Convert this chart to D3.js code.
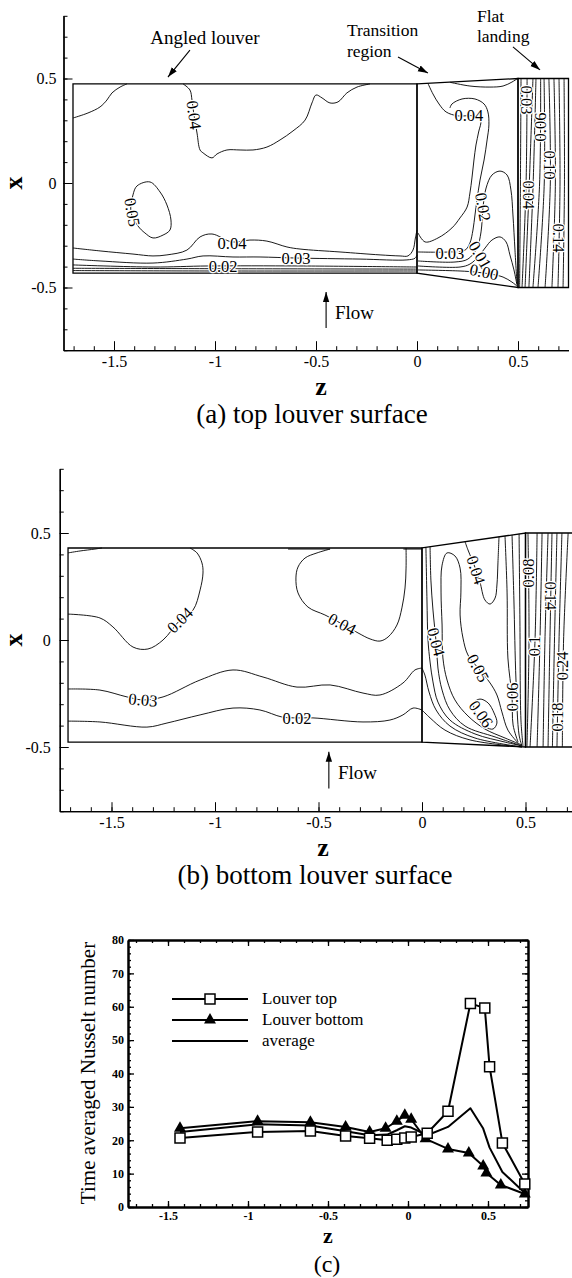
<!DOCTYPE html>
<html><head><meta charset="utf-8">
<script src="https://cdn.jsdelivr.net/npm/d3@7"></script>
<style>
body{margin:0;background:#fff;}
svg{display:block;font-family:"Liberation Serif","Times New Roman",serif;}
</style></head><body>
<svg id="chart" width="572" height="1278"></svg>
<script>
// ================= DATA =================
// ---- common axis ticks ----
const louverXTicks = [-1.5, -1, -0.5, 0, 0.5];
const louverYTicks = [-0.5, 0, 0.5];
const nuXTicks = [-1.5, -1, -0.5, 0, 0.5];
const nuYTicks = [0, 10, 20, 30, 40, 50, 60, 70, 80];

// ---- panel (a) top louver surface: region outlines [z, x] ----
const aAngledBound = [[-1.703,0.474],[0,0.474],[0,-0.431],[-1.703,-0.431]];
const aTransBound  = [[0,0.474],[0.5,0.5],[0.5,-0.5],[0,-0.431]];
const aFlatBound   = [[0.5,0.5],[0.75,0.5],[0.75,-0.5],[0.5,-0.5]];
// ---- panel (a) contour lines [z, x] ----
const aAngled004Left = [[-1.703,0.311],[-1.629,0.335],[-1.569,0.364],[-1.535,0.397],[-1.510,0.431],[-1.470,0.459],[-1.436,0.474]];
const aAngled004Top = [[-1.158,0.474],[-1.124,0.445],[-1.114,0.397],[-1.104,0.325],[-1.089,0.239],[-1.074,0.158],[-1.059,0.144],[-1.015,0.120],[-0.990,0.139],[-0.941,0.158],[-0.876,0.158],[-0.812,0.158],[-0.743,0.172],[-0.678,0.206],[-0.614,0.249],[-0.554,0.301],[-0.520,0.383],[-0.500,0.421],[-0.470,0.407],[-0.431,0.383],[-0.391,0.388],[-0.347,0.431],[-0.297,0.459],[-0.233,0.474]];
const aAngled005Loop = [[-1.386,-0.014],[-1.322,0.005],[-1.272,-0.043],[-1.238,-0.105],[-1.218,-0.177],[-1.223,-0.225],[-1.257,-0.249],[-1.307,-0.263],[-1.347,-0.239],[-1.381,-0.206],[-1.416,-0.139],[-1.406,-0.057]];
const aAngled004Low = [[-1.703,-0.311],[-1.569,-0.325],[-1.406,-0.340],[-1.307,-0.349],[-1.238,-0.344],[-1.139,-0.321],[-1.074,-0.258],[-1.015,-0.244],[-0.916,-0.282],[-0.827,-0.273],[-0.743,-0.278],[-0.644,-0.306],[-0.579,-0.316],[-0.381,-0.330],[-0.183,-0.344],[-0.084,-0.349],[-0.045,-0.349],[-0.020,-0.321],[-0.008,-0.263],[0,-0.225]];
const aAngled003 = [[-1.703,-0.364],[-1.569,-0.373],[-1.307,-0.383],[-1.139,-0.364],[-1.059,-0.349],[-0.911,-0.354],[-0.777,-0.354],[-0.599,-0.359],[-0.282,-0.364],[-0.050,-0.368],[-0.010,-0.360],[0,-0.345]];
const aAngled002 = [[-1.703,-0.392],[-1.307,-0.402],[-1.035,-0.397],[-0.579,-0.397],[0,-0.402]];
const aAngled001 = [[-1.703,-0.408],[-1.000,-0.410],[0,-0.412]];
const aAngled000 = [[-1.703,-0.419],[-1.000,-0.421],[0,-0.421]];
const aTransTop = [[0.163,0.482],[0.262,0.464],[0.361,0.459],[0.426,0.464],[0.470,0.483],[0.495,0.498]];
const aTrans004 = [[0.054,0.477],[0.079,0.426],[0.109,0.378],[0.144,0.340],[0.203,0.321],[0.280,0.321],[0.315,0.300],[0.305,0.244],[0.292,0.182],[0.282,0.110],[0.272,0.024],[0.262,-0.048],[0.248,-0.115],[0.213,-0.167],[0.173,-0.215],[0.104,-0.263],[0.040,-0.282],[0.005,-0.239]];
const aTrans003 = [[0.005,-0.330],[0.163,-0.330],[0.238,-0.321],[0.262,-0.287],[0.277,-0.225],[0.287,-0.153],[0.297,-0.081],[0.312,0.014],[0.332,0.110],[0.347,0.206],[0.356,0.278],[0.351,0.340],[0.332,0.378],[0.287,0.402],[0.223,0.402],[0.173,0.378],[0.163,0.359]];
const aTrans002 = [[0.005,-0.373],[0.188,-0.378],[0.252,-0.364],[0.297,-0.311],[0.317,-0.234],[0.327,-0.115],[0.342,-0.024],[0.371,0.038],[0.411,0.057],[0.446,0.038],[0.465,-0.033],[0.475,-0.153],[0.485,-0.321],[0.495,-0.483]];
const aTrans001 = [[0.005,-0.397],[0.213,-0.402],[0.262,-0.388],[0.302,-0.354],[0.337,-0.311],[0.371,-0.273],[0.411,-0.258],[0.441,-0.282],[0.460,-0.344],[0.480,-0.416],[0.495,-0.488]];
const aTrans000 = [[0.005,-0.416],[0.213,-0.421],[0.287,-0.426],[0.361,-0.435],[0.426,-0.450],[0.470,-0.474],[0.495,-0.493]];
// flat landing lines: z where each line meets x = 0.5, x = 0, x = -0.5
const aFlatTop = [0.515,0.545,0.574,0.589,0.612,0.629,0.653,0.678,0.703,0.728];
const aFlatMid = [0.512,0.540,0.556,0.575,0.607,0.630,0.660,0.685,0.708,0.730];
const aFlatBot = [0.508,0.520,0.535,0.554,0.574,0.599,0.634,0.668,0.698,0.723];
// contour labels [z, x, text, angle]
const aLabels = [
  [-1.104,0.325,"0.04",82],[-1.410,-0.140,"0.05",80],[-0.916,-0.287,"0.04",0],
  [-0.599,-0.359,"0.03",0],[-0.960,-0.397,"0.02",0],
  [0.257,0.325,"0.04",0],[0.163,-0.335,"0.03",0],[0.327,-0.115,"0.02",80],
  [0.312,-0.344,"0.01",60],[0.332,-0.426,"0.00",12],
  [0.544,0.397,"0.03",90],[0.554,-0.057,"0.04",90],[0.610,0.268,"0.06",-90],
  [0.659,0.086,"0.10",90],[0.703,-0.263,"0.14",90]
];

// ---- panel (b) bottom louver surface ----
const bAngledBound = [[-1.710,0.430],[0,0.430],[0,-0.477],[-1.710,-0.477]];
const bTransBound  = [[0,0.430],[0.5,0.5],[0.5,-0.5],[0,-0.477]];
const bFlatBound   = [[0.5,0.5],[0.75,0.5],[0.75,-0.5],[0.5,-0.5]];
const bAngledTopL = [[-1.710,0.407],[-1.652,0.416],[-1.580,0.425],[-1.546,0.430]];
const bAngledTopM = [[-0.647,0.425],[-0.444,0.425]];
const bAngledTopR = [[-0.090,0.425],[0,0.425]];
const bAngled004a = [[-1.710,0.121],[-1.556,0.103],[-1.493,0.061],[-1.396,-0.033],[-1.324,-0.042],[-1.251,0],[-1.169,0.093],[-1.106,0.140],[-1.072,0.234],[-1.058,0.313],[-1.063,0.360],[-1.087,0.407],[-1.121,0.430]];
const bAngled004b = [[-0.444,0.425],[-0.507,0.407],[-0.565,0.383],[-0.599,0.341],[-0.609,0.290],[-0.599,0.220],[-0.551,0.154],[-0.469,0.117],[-0.386,0.075],[-0.309,0.033],[-0.251,0.005],[-0.203,-0.005],[-0.164,0.014],[-0.121,0.070],[-0.097,0.150],[-0.082,0.243],[-0.077,0.336],[-0.077,0.430]];
const bAngled003 = [[-1.710,-0.229],[-1.556,-0.234],[-1.425,-0.266],[-1.348,-0.280],[-1.251,-0.266],[-1.072,-0.187],[-0.913,-0.140],[-0.768,-0.173],[-0.604,-0.220],[-0.444,-0.210],[-0.285,-0.248],[-0.203,-0.257],[-0.092,-0.201],[-0.034,-0.140],[0,-0.131]];
const bAngled002 = [[-1.710,-0.379],[-1.556,-0.383],[-1.329,-0.407],[-1.232,-0.388],[-1.072,-0.350],[-0.913,-0.318],[-0.783,-0.327],[-0.676,-0.360],[-0.604,-0.364],[-0.527,-0.364],[-0.285,-0.383],[-0.155,-0.374],[-0.092,-0.350],[-0.043,-0.318],[0,-0.327]];
const bTransA = [[0.019,0.432],[0.024,0.187],[0.029,0],[0.039,-0.103],[0.053,-0.196],[0.077,-0.290],[0.135,-0.374],[0.256,-0.439],[0.401,-0.477],[0.483,-0.495]];
const bTrans003 = [[0,-0.131],[0.014,-0.164],[0.034,-0.243],[0.068,-0.327],[0.135,-0.402],[0.256,-0.458],[0.483,-0.5]];
const bTrans002 = [[0,-0.327],[0.039,-0.364],[0.111,-0.421],[0.232,-0.467],[0.483,-0.5]];
const bTrans004 = [[0.039,0.435],[0.043,0.280],[0.053,0.140],[0.068,-0.009],[0.077,-0.131],[0.097,-0.234],[0.135,-0.327],[0.208,-0.402],[0.353,-0.453],[0.483,-0.495]];
const bTrans005 = [[0.483,-0.491],[0.401,-0.458],[0.304,-0.416],[0.222,-0.355],[0.159,-0.280],[0.121,-0.187],[0.101,-0.084],[0.097,0.070],[0.092,0.224],[0.097,0.350],[0.121,0.407],[0.159,0.393],[0.184,0.336],[0.188,0.224],[0.184,0.117],[0.198,0.009],[0.222,-0.070],[0.271,-0.131],[0.329,-0.201],[0.362,-0.257],[0.386,-0.336],[0.415,-0.421],[0.464,-0.481]];
const bTrans006Loop = [[0.251,-0.294],[0.280,-0.276],[0.319,-0.294],[0.348,-0.341],[0.362,-0.388],[0.343,-0.416],[0.309,-0.407],[0.275,-0.374],[0.256,-0.336]];
const bTrans004Pocket = [[0.208,0.459],[0.222,0.421],[0.242,0.374],[0.261,0.327],[0.280,0.271],[0.304,0.187],[0.329,0.168],[0.353,0.196],[0.362,0.257],[0.367,0.364],[0.372,0.482]];
const bTrans006 = [[0.401,0.486],[0.411,0.224],[0.415,-0.084],[0.435,-0.266],[0.440,-0.397],[0.464,-0.477]];
const bTransB = [[0.435,0.491],[0.444,0.187],[0.454,-0.187],[0.469,-0.444],[0.483,-0.495]];
const bTransC = [[0.469,0.496],[0.473,0.093],[0.478,-0.374],[0.488,-0.495]];
const bFlatTop = [0.512,0.556,0.580,0.609,0.628,0.652,0.676,0.706];
const bFlatMid = [0.517,0.546,0.570,0.594,0.618,0.640,0.662,0.684];
const bFlatBot = [0.507,0.522,0.556,0.585,0.609,0.630,0.652,0.678];
const bLabels = [
  [-1.169,0.093,"0.04",-45],[-0.386,0.075,"0.04",28],[-1.348,-0.280,"0.03",5],[-0.604,-0.364,"0.02",0],
  [0.068,-0.009,"0.04",75],[0.261,0.327,"0.04",72],[0.271,-0.131,"0.05",62],[0.285,-0.346,"0.06",55],
  [0.435,-0.266,"0.06",-90],
  [0.515,0.313,"0.08",-90],[0.545,-0.028,"0.1",-90],[0.623,0.206,"0.14",90],[0.656,-0.360,"0.18",-90],[0.680,-0.121,"0.24",-90]
];

// ---- annotations (data coordinates) ----
const arrowAngled = [[-1.124,0.636],[-1.233,0.507]];
const arrowTrans  = [[-0.094,0.603],[0.054,0.526]];
const arrowFlat   = [[0.475,0.651],[0.609,0.541]];
const arrowFlow   = [[-0.450,-0.694],[-0.450,-0.522]];
const aNotes = [["Angled louver",-1.05,0.665,"middle"],["Transition",-0.347,0.701,"start"],["region",-0.347,0.605,"start"],["Flat",0.297,0.772,"start"],["landing",0.297,0.676,"start"],["Flow",-0.406,-0.651,"start"]];
const bNotes = [["Flow",-0.406,-0.651,"start"]];

// ---- panel (c) time averaged Nusselt number ----
const zTop     = [-1.425,-0.94,-0.61,-0.39,-0.24,-0.13,-0.07,-0.02,0.02,0.12,0.25,0.39,0.48,0.51,0.59,0.73];
const nuTop    = [20.7,22.5,22.8,21.3,20.6,20.0,20.3,20.7,21.0,22.1,28.7,61.0,59.6,42.0,19.2,6.9];
const zBottom  = [-1.425,-0.94,-0.61,-0.39,-0.24,-0.14,-0.07,-0.02,0.02,0.11,0.25,0.38,0.47,0.49,0.58,0.73];
const nuBottom = [23.6,25.7,25.4,24.0,22.5,23.6,25.7,27.5,26.3,20.4,17.4,16.2,12.3,10.2,6.6,3.9];
const zAvg     = [-1.425,-0.94,-0.61,-0.39,-0.24,-0.13,-0.07,-0.02,0.02,0.12,0.25,0.39,0.47,0.51,0.59,0.73];
const nuAvg    = [22.5,24.8,24.4,22.7,21.5,21.7,23.0,24.2,23.8,21.5,24.0,29.6,23.5,17.8,10.5,4.2];
const legendNames = ["Louver top","Louver bottom","average"];

// ================= DRAWING =================
const FONT = '"Liberation Serif","Times New Roman",serif';
const svg = d3.select("#chart");
const defs = svg.append("defs");
defs.append("marker").attr("id","ah").attr("viewBox","0 0 10 10").attr("refX",10).attr("refY",5)
  .attr("markerWidth",10).attr("markerHeight",10).attr("markerUnits","userSpaceOnUse").attr("orient","auto")
  .append("path").attr("d","M0,1.8L10,5L0,8.2Z").attr("fill","#000");

function flatLines(top, mid, bot){
  return top.map((t,i)=>[[t,0.5],[mid[i],0],[bot[i],-0.5]]);
}

function louverPanel(o){
  const g = svg.append("g");
  const xs = d3.scaleLinear().domain([-1.75,0.75]).range(o.xRange);
  const ys = d3.scaleLinear().domain([-0.8,0.8]).range(o.yRange);
  const cr = d3.line().x(d=>xs(d[0])).y(d=>ys(d[1])).curve(d3.curveCatmullRom.alpha(0.5));
  const crc = d3.line().x(d=>xs(d[0])).y(d=>ys(d[1])).curve(d3.curveCatmullRomClosed.alpha(0.5));
  const poly = d3.line().x(d=>xs(d[0])).y(d=>ys(d[1])).curve(d3.curveLinearClosed);
  const lin = d3.line().x(d=>xs(d[0])).y(d=>ys(d[1]));

  g.append("g").selectAll("path").data(o.lines).join("path")
    .attr("d",cr).attr("fill","none").attr("stroke","#000").attr("stroke-width",0.9);
  g.append("g").selectAll("path").data(o.loops).join("path")
    .attr("d",crc).attr("fill","none").attr("stroke","#000").attr("stroke-width",0.9);
  g.append("g").selectAll("path").data(o.bounds).join("path")
    .attr("d",poly).attr("fill","none").attr("stroke","#000").attr("stroke-width",1.3);
  g.append("g").selectAll("text").data(o.labels).join("text")
    .attr("transform",d=>`translate(${xs(d[0])},${ys(d[1])}) rotate(${d[3]})`)
    .attr("text-anchor","middle").attr("dy","0.34em")
    .attr("font-size",16.5).attr("fill","#000")
    .attr("stroke","#fff").attr("stroke-width",2.5).attr("paint-order","stroke")
    .text(d=>d[2]);

  const y0 = ys(-0.8);
  const minorX = d3.range(-17,8).map(i=>i/10);
  const minorY = d3.range(-8,9).map(i=>i/10);
  const styleAx = s => s.attr("font-family",FONT).attr("font-size",16)
      .call(a=>a.selectAll(".domain").attr("stroke-width",1.3))
      .call(a=>a.selectAll(".tick line").attr("stroke-width",1));
  g.append("g").attr("transform",`translate(0,${y0})`)
    .call(d3.axisBottom(xs).tickValues(minorX).tickSize(-4).tickSizeOuter(0).tickFormat("")).call(styleAx);
  g.append("g").attr("transform",`translate(0,${y0})`)
    .call(d3.axisBottom(xs).tickValues(louverXTicks).tickSize(-9).tickSizeOuter(0).tickPadding(5).tickFormat(d=>String(d))).call(styleAx);
  const x0 = xs(-1.75);
  g.append("g").attr("transform",`translate(${x0},0)`)
    .call(d3.axisLeft(ys).tickValues(minorY).tickSize(-4).tickSizeOuter(0).tickFormat("")).call(styleAx);
  g.append("g").attr("transform",`translate(${x0},0)`)
    .call(d3.axisLeft(ys).tickValues(louverYTicks).tickSize(-9).tickSizeOuter(0).tickPadding(o.yPad).tickFormat(d=>String(d))).call(styleAx);

  g.append("text").attr("x",o.zLabel[0]).attr("y",o.zLabel[1]).attr("text-anchor","middle")
    .attr("font-size",26).attr("font-weight","bold").text("z");
  g.append("text").attr("transform",`translate(22,${ys(0)}) rotate(-90)`).attr("text-anchor","middle")
    .attr("font-size",26).attr("font-weight","bold").text("x");
  g.append("text").attr("x",o.caption[0]).attr("y",o.caption[1]).attr("text-anchor","middle")
    .attr("font-size",27).text(o.caption[2]);

  g.append("g").selectAll("path").data(o.arrows).join("path")
    .attr("d",lin).attr("stroke","#000").attr("stroke-width",1.1).attr("fill","none").attr("marker-end","url(#ah)");
  g.append("g").selectAll("text").data(o.notes).join("text")
    .attr("x",d=>xs(d[1])).attr("y",d=>ys(d[2])).attr("text-anchor",d=>d[3])
    .attr("font-size",d=>d[0]==="Angled louver"||d[0]==="Flow"?19:17.5).text(d=>d[0]);
}

louverPanel({
  xRange:[63.5,568.5], yRange:[350.2,15.8], yPad:7,
  bounds:[aAngledBound,aTransBound,aFlatBound],
  lines:[aAngled004Left,aAngled004Top,aAngled004Low,aAngled003,aAngled002,aAngled001,aAngled000,
         aTransTop,aTrans004,aTrans003,aTrans002,aTrans001,aTrans000,
         ...flatLines(aFlatTop,aFlatMid,aFlatBot)],
  loops:[aAngled005Loop],
  labels:aLabels,
  zLabel:[321,395], caption:[312,423,"(a) top louver surface"],
  arrows:[arrowAngled,arrowTrans,arrowFlat,arrowFlow],
  notes:aNotes
});

louverPanel({
  xRange:[59.75,577.25], yRange:[811.2,468.8], yPad:9,
  bounds:[bAngledBound,bTransBound,bFlatBound],
  lines:[bAngledTopL,bAngledTopM,bAngledTopR,bAngled004a,bAngled004b,bAngled003,bAngled002,
         bTransA,bTrans003,bTrans002,bTrans004,bTrans005,bTrans004Pocket,bTrans006,bTransB,bTransC,
         ...flatLines(bFlatTop,bFlatMid,bFlatBot)],
  loops:[bTrans006Loop],
  labels:bLabels,
  zLabel:[323,856], caption:[315,884,"(b) bottom louver surface"],
  arrows:[arrowFlow],
  notes:bNotes
});

// ---- panel (c) ----
(function(){
  const g = svg.append("g");
  const xs = d3.scaleLinear().domain([-1.75,0.75]).range([128,528]);
  const ys = d3.scaleLinear().domain([0,80]).range([1207,940]);
  const minorX = d3.range(-17,8).map(i=>i/10);
  const minorY = d3.range(0,81,2);
  const styleAx = s => s.attr("font-family",FONT).attr("font-size",12).attr("font-weight","bold")
      .call(a=>a.selectAll(".domain").attr("stroke-width",2))
      .call(a=>a.selectAll(".tick line").attr("stroke-width",1.3));
  const addAx = (axisFn, tr, vals, size, fmt) => {
    const a = axisFn.tickValues(vals).tickSize(-size).tickSizeOuter(0).tickPadding(4).tickFormat(fmt);
    g.append("g").attr("transform",tr).call(a).call(styleAx);
  };
  addAx(d3.axisBottom(xs),`translate(0,${ys(0)})`,minorX,3,"");
  addAx(d3.axisBottom(xs),`translate(0,${ys(0)})`,nuXTicks,6,d=>String(d));
  addAx(d3.axisTop(xs),`translate(0,${ys(80)})`,minorX,3,"");
  addAx(d3.axisTop(xs),`translate(0,${ys(80)})`,nuXTicks,6,"");
  addAx(d3.axisLeft(ys),`translate(${xs(-1.75)},0)`,minorY,3,"");
  addAx(d3.axisLeft(ys),`translate(${xs(-1.75)},0)`,nuYTicks,6,d=>String(d));
  addAx(d3.axisRight(ys),`translate(${xs(0.75)},0)`,minorY,3,"");
  addAx(d3.axisRight(ys),`translate(${xs(0.75)},0)`,nuYTicks,6,"");

  const line = d3.line().x(d=>xs(d[0])).y(d=>ys(d[1]));
  const top = zTop.map((z,i)=>[z,nuTop[i]]);
  const bot = zBottom.map((z,i)=>[z,nuBottom[i]]);
  const avg = zAvg.map((z,i)=>[z,nuAvg[i]]);
  [avg,bot,top].forEach(s=>g.append("path").attr("d",line(s)).attr("fill","none")
     .attr("stroke","#000").attr("stroke-width",2).attr("stroke-linejoin","round"));
  const sq = d3.symbol().type(d3.symbolSquare).size(100)();
  const tri = d3.symbol().type(d3.symbolTriangle).size(62)();
  g.append("g").selectAll("path").data(bot).join("path")
    .attr("transform",d=>`translate(${xs(d[0])},${ys(d[1])})`).attr("d",tri).attr("fill","#000");
  g.append("g").selectAll("path").data(top).join("path")
    .attr("transform",d=>`translate(${xs(d[0])},${ys(d[1])})`).attr("d",sq)
    .attr("fill","#fff").attr("stroke","#000").attr("stroke-width",1.5);

  const lg = g.append("g");
  legendNames.forEach((name,i)=>{
    const y = 999 + i*21;
    lg.append("line").attr("x1",172).attr("x2",248).attr("y1",y).attr("y2",y).attr("stroke","#000").attr("stroke-width",2.2);
    if(i===0) lg.append("path").attr("transform",`translate(210,${y})`).attr("d",sq).attr("fill","#fff").attr("stroke","#000").attr("stroke-width",1.5);
    if(i===1) lg.append("path").attr("transform",`translate(210,${y})`).attr("d",tri).attr("fill","#000");
    lg.append("text").attr("x",262).attr("y",y+5).attr("font-size",17).text(name);
  });

  g.append("text").attr("transform",`translate(95,1073) rotate(-90)`).attr("text-anchor","middle")
    .attr("font-size",21).text("Time averaged Nusselt number");
  g.append("text").attr("x",328).attr("y",1243).attr("text-anchor","middle").attr("font-size",22).attr("font-weight","bold").text("z");
  g.append("text").attr("x",327).attr("y",1272).attr("text-anchor","middle").attr("font-size",24).text("(c)");
})();
</script></body></html>
